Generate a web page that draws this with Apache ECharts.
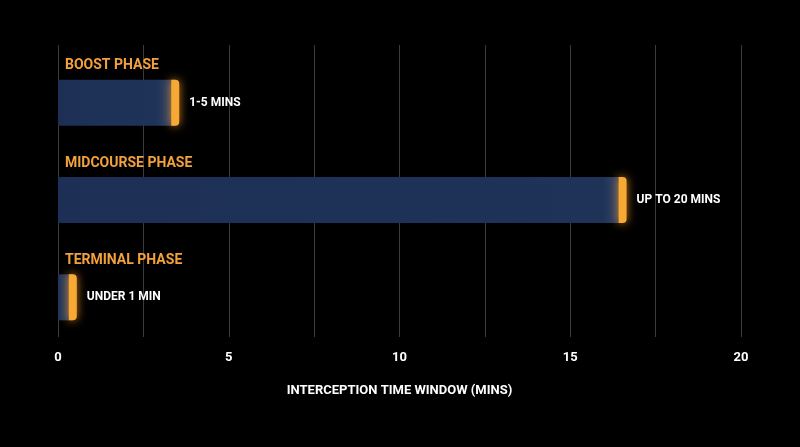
<!DOCTYPE html>
<html><head><meta charset="utf-8">
<script src="https://cdn.jsdelivr.net/npm/echarts@6/dist/echarts.min.js"></script>
<style>html,body{margin:0;background:#000}#c{width:800px;height:447px}</style>
</head><body><div id="c"></div>
<script>
const phases = ['BOOST PHASE', 'MIDCOURSE PHASE', 'TERMINAL PHASE'];
const windowEnds = [3.55, 16.65, 0.55];
const valueLabels = ['1-5 MINS', 'UP TO 20 MINS', 'UNDER 1 MIN'];
const axisTitle = 'INTERCEPTION TIME WINDOW (MINS)';

const chart = echarts.init(document.getElementById('c'));
const FONT = 'Roboto';
chart.setOption({
  backgroundColor: '#000',
  animation: false,
  grid: {left: 58, right: 59, top: 45, bottom: 110},
  xAxis: {
    type: 'value', min: 0, max: 20, interval: 2.5,
    axisLine: {show: false}, axisTick: {show: false},
    splitLine: {show: true, lineStyle: {color: '#3a3a3a', width: 1}},
    axisLabel: {color: '#fff', fontFamily: FONT, fontWeight: 'bold', fontSize: 13, margin: 14,
      formatter: v => (v % 5 === 0 ? String(v) : '')},
    name: axisTitle, nameLocation: 'middle', nameGap: 47,
    nameTextStyle: {color: '#fff', fontFamily: FONT, fontWeight: 'bold', fontSize: 13}
  },
  yAxis: {
    type: 'category', data: phases, inverse: true,
    axisLine: {show: false}, axisTick: {show: false}, axisLabel: {show: false}, splitLine: {show: false}
  },
  series: [{
    type: 'custom',
    data: windowEnds.map((v, i) => [v, i]),
    renderItem: (params, api) => {
      const v = api.value(0), i = api.value(1);
      const p0 = api.coord([0, i]);
      const p1 = api.coord([v, i]);
      const cy = p0[1] + 9, h = 46, top = cy - h / 2;
      const w = p1[0] - p0[0];
      return {type: 'group', children: [
        {type: 'rect', shape: {x: p0[0], y: top, width: w - 4, height: h},
          style: {fill: new echarts.graphic.LinearGradient(0, 0, 1, 0, [
            {offset: 0, color: '#1d2f55'}, {offset: Math.max(0, 1 - 20 / w), color: '#1f3359'},
            {offset: 1, color: '#3a4560'}])}},
        {type: 'rect', shape: {x: p1[0] - 8, y: top, width: 8, height: h, r: [0, 4, 4, 0]},
          style: {fill: '#f8a933', shadowBlur: 10, shadowColor: 'rgba(255,160,40,0.8)'}},
        {type: 'text', style: {x: p1[0] + 10, y: cy, text: valueLabels[i], fill: '#fff',
          font: 'bold 12px ' + FONT, verticalAlign: 'middle'}},
        {type: 'text', style: {x: p0[0] + 7, y: top - 14, text: phases[i], fill: '#f3a13c',
          font: 'bold 14px ' + FONT, verticalAlign: 'middle'}}
      ]};
    }
  }]
});
</script></body></html>
